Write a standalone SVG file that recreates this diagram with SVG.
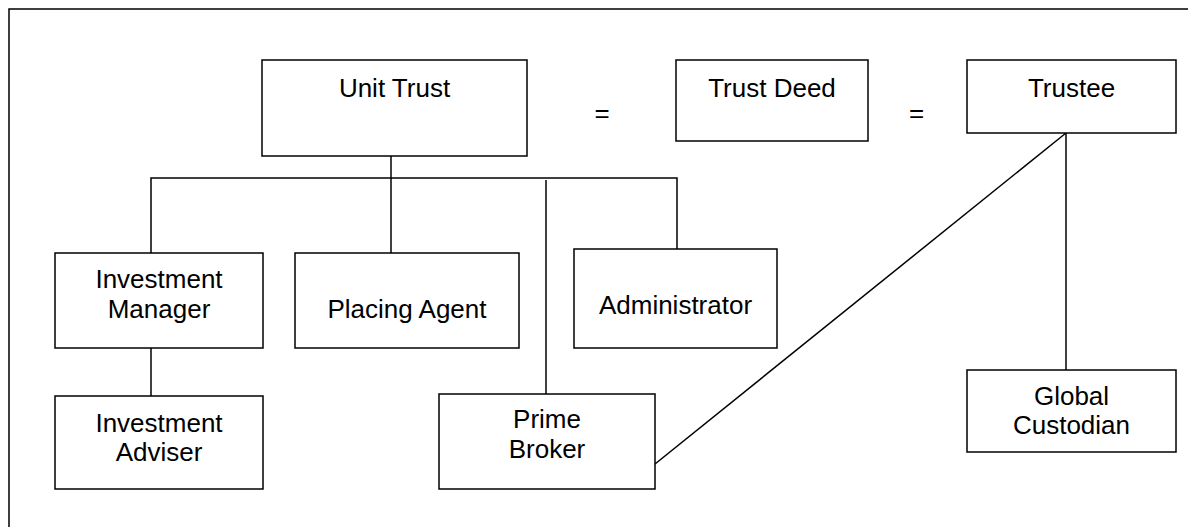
<svg xmlns="http://www.w3.org/2000/svg" width="1188" height="527" viewBox="0 0 1188 527">
  <style>
    .frame { fill: none; stroke: #000; stroke-width: 1.5; }
    .box { fill: #fff; stroke: #000; stroke-width: 1.5; }
    .wire { fill: none; stroke: #000; stroke-width: 1.5; }
    .lbl { font-family: "Liberation Sans", Arial, sans-serif; font-size: 26px; fill: #000; text-anchor: middle; }
  </style>
  <rect width="1188" height="527" fill="#fff"/>
  <!-- outer frame (runs off the right and bottom edges) -->
  <rect class="frame" x="9" y="9" width="1200" height="540"/>

  <g id="connectors">
    <polyline class="wire" points="391,156 391,178"/>
    <polyline class="wire" points="151,253 151,178 677,178 677,249"/>
    <line class="wire" x1="391" y1="178" x2="391" y2="253"/>
    <line class="wire" x1="546" y1="180" x2="546" y2="394"/>
    <line class="wire" x1="151" y1="348" x2="151" y2="396"/>
    <line class="wire" x1="1066" y1="133" x2="1066" y2="370"/>
    <line class="wire" x1="1066" y1="133" x2="655" y2="464"/>
  </g>

  <g id="unit-trust">
    <rect class="box" x="262" y="60" width="265" height="96"/>
    <text class="lbl" x="394.5" y="97">Unit Trust</text>
  </g>
  <g id="eq-1">
    <text class="lbl" x="602" y="122">=</text>
  </g>
  <g id="trust-deed">
    <rect class="box" x="676" y="60" width="192" height="81"/>
    <text class="lbl" x="772" y="97">Trust Deed</text>
  </g>
  <g id="eq-2">
    <text class="lbl" x="916.5" y="122">=</text>
  </g>
  <g id="trustee">
    <rect class="box" x="967" y="60" width="209" height="73"/>
    <text class="lbl" x="1071.5" y="97">Trustee</text>
  </g>
  <g id="investment-manager">
    <rect class="box" x="55" y="253" width="208" height="95"/>
    <text class="lbl" x="159" y="288">Investment</text>
    <text class="lbl" x="159" y="318">Manager</text>
  </g>
  <g id="placing-agent">
    <rect class="box" x="295" y="253" width="224" height="95"/>
    <text class="lbl" x="407" y="318">Placing Agent</text>
  </g>
  <g id="administrator">
    <rect class="box" x="574" y="249" width="203" height="99"/>
    <text class="lbl" x="675.5" y="314">Administrator</text>
  </g>
  <g id="investment-adviser">
    <rect class="box" x="55" y="396" width="208" height="93"/>
    <text class="lbl" x="159" y="432">Investment</text>
    <text class="lbl" x="159" y="461">Adviser</text>
  </g>
  <g id="prime-broker">
    <rect class="box" x="439" y="394" width="216" height="95"/>
    <text class="lbl" x="547" y="428">Prime</text>
    <text class="lbl" x="547" y="458">Broker</text>
  </g>
  <g id="global-custodian">
    <rect class="box" x="967" y="370" width="209" height="82"/>
    <text class="lbl" x="1071.5" y="405">Global</text>
    <text class="lbl" x="1071.5" y="434">Custodian</text>
  </g>
</svg>
